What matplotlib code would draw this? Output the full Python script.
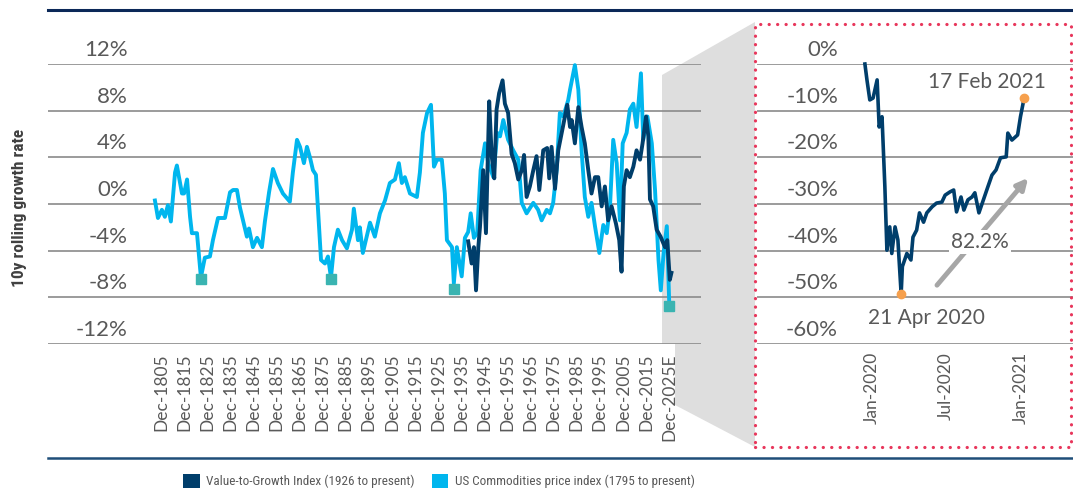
import datetime as dt
import matplotlib
matplotlib.use("Agg")
import matplotlib.pyplot as plt
from matplotlib import font_manager
from matplotlib.font_manager import FontProperties
from matplotlib.patches import Polygon, Rectangle, Patch
from matplotlib.lines import Line2D
from matplotlib.transforms import ScaledTranslation

# ---------------- data ----------------
comm_year = [1802.4, 1803.7, 1805.4, 1806.7, 1808.0, 1809.3, 1811.1, 1811.9, 1814.1, 1815.0,
             1816.3, 1817.6, 1818.4, 1820.6, 1822.3, 1824.0, 1826.2, 1827.5, 1829.7, 1832.7,
             1834.9, 1836.2, 1837.9, 1839.2, 1842.2, 1843.1, 1844.8, 1846.6, 1848.7, 1850.0,
             1851.8, 1853.5, 1855.6, 1857.8, 1860.8, 1862.1, 1863.9, 1865.2, 1866.9, 1868.2,
             1869.5, 1870.8, 1872.1, 1874.3, 1876.0, 1877.3, 1878.6, 1879.9, 1881.6, 1883.4,
             1885.5, 1887.7, 1888.5, 1890.3, 1891.1, 1892.4, 1895.5, 1897.6, 1899.8, 1902.0,
             1904.1, 1906.3, 1908.0, 1909.3, 1910.6, 1912.8, 1915.8, 1917.1, 1918.4, 1920.2,
             1921.9, 1923.2, 1924.5, 1926.6, 1927.9, 1928.8, 1931.0, 1931.8, 1933.1,
             1935.2, 1936.6, 1938.0, 1939.1, 1940.5, 1941.9, 1943.4, 1945.3, 1946.7, 1948.9,
             1950.6, 1951.8, 1953.2, 1955.3, 1957.5, 1959.7, 1961.2, 1963.3, 1966.2, 1968.3,
             1969.8, 1972.0, 1973.4, 1974.8, 1976.3, 1977.7, 1979.2, 1981.3, 1982.1, 1984.2,
             1985.7, 1987.1, 1988.5, 1990.0, 1991.4, 1992.9, 1994.8, 1996.5, 1998.0, 1999.4,
             2000.8, 2002.3, 2003.7, 2004.9, 2006.6, 2008.0, 2009.5, 2010.9, 2012.8, 2013.8,
             2015.6, 2017.5, 2018.9, 2020.4, 2021.4, 2022.6, 2024.0, 2025.0]
comm_val = [0.3, -1.2, -0.5, -1.1, -0.1, -1.5, 2.7, 3.3, 0.9, 0.9,
            2.1, -1.1, -2.5, -2.5, -6.3, -4.6, -4.5, -3.1, -1.2, -1.2,
            1.0, 1.2, 1.2, -0.3, -2.8, -2.1, -3.7, -2.9, -3.7, -1.5,
            1.0, 3.0, 1.8, 0.9, 0.2, 2.7, 5.5, 4.9, 3.5, 4.9,
            4.0, 2.9, 2.5, -4.8, -5.1, -4.5, -6.3, -3.7, -2.2, -3.1,
            -3.8, -2.2, -0.4, -3.1, -2.0, -4.2, -1.6, -2.8, -0.8, 0.3,
            1.8, 2.1, 3.5, 1.8, 2.3, 0.9, 0.6, 2.7, 6.1, 7.8,
            8.5, 3.2, 3.8, 3.8, 0.9, -3.1, -3.7, -6.8, -3.7,
            -6.2, -2.9, -2.4, -0.8, -2.9, -2.5, 2.9, 5.2, 3.5, 2.3,
            6.1, 5.8, 7.2, 5.5, 4.6, 3.8, 0.1, -0.8, 0.1, -0.5,
            -1.4, -0.5, -0.8, 0.1, 2.9, 7.8, 7.5, 8.9, 9.8, 11.9,
            9.8, 4.6, 0.6, -1.1, 0.1, -1.9, -4.2, -1.8, -2.5, -0.2,
            5.5, 3.5, -1.4, 5.2, 6.1, 8.1, 8.6, 6.6, 11.2, 5.5,
            7.5, 5.2, 1.2, -4.8, -7.4, -4.2, -1.9, -8.2]

vg_year = [1938.0, 1939.5, 1940.5, 1941.4, 1942.4, 1943.1, 1944.5, 1945.7, 1947.1, 1948.2,
           1949.3, 1950.3, 1951.4, 1952.9, 1953.9, 1955.3, 1956.8, 1958.2, 1959.7, 1961.2,
           1962.2, 1963.3, 1964.7, 1966.2, 1967.6, 1968.8, 1970.5, 1972.2, 1973.1, 1974.1,
           1975.6, 1977.0, 1978.5, 1979.9, 1980.9, 1982.1, 1982.8, 1984.2, 1985.7, 1987.1,
           1988.5, 1990.0, 1991.4, 1992.9, 1994.3, 1995.8, 1997.2, 1998.6, 2000.1, 2002.0,
           2003.4, 2004.4, 2005.4, 2006.6, 2008.0, 2009.5, 2010.9, 2012.4, 2013.5, 2015.0,
           2016.0, 2016.7, 2018.1, 2019.6, 2021.3, 2023.2, 2024.2, 2025.3, 2026.0]
vg_val = [-3.2, -5.1, -3.7, -7.4, -3.7, -2.0, 2.9, -2.5, 8.8, 4.1,
          2.2, 8.1, 9.5, 10.6, 8.6, 7.8, 4.3, 3.5, 2.1, 2.9,
          4.2, 0.6, 1.5, 2.9, 4.1, 1.2, 4.6, 4.8, 2.2, 4.9,
          1.3, 4.6, 6.1, 7.5, 8.5, 6.6, 7.2, 5.2, 8.3, 6.6,
          5.2, 2.9, 0.9, 2.3, 2.3, -0.2, 1.5, -1.4, -0.2, -1.7,
          -3.1, -5.8, 1.5, 2.9, 2.3, 3.2, 4.6, 3.8, 5.2, 7.5,
          5.8, 0.4, -0.2, -2.2, -2.8, -3.7, -3.1, -6.5, -5.9]

trough_year = [1822.3, 1878.6, 1931.8, 2025.0]
trough_val = [-6.45, -6.45, -7.3, -8.7]

left_yticks = [12, 8, 4, 0, -4, -8, -12]
left_xtick_years = list(range(1805, 2026, 10))
left_xtick_labels = [f"Dec-{y}" for y in range(1805, 2016, 10)] + ["Dec-2025E"]

zoom_dates = ["2020-01-23", "2020-01-28", "2020-02-04", "2020-02-12", "2020-02-22", "2020-02-27",
              "2020-03-05", "2020-03-12", "2020-03-17", "2020-03-24", "2020-03-29", "2020-04-06",
              "2020-04-13", "2020-04-21", "2020-04-24", "2020-05-05", "2020-05-15", "2020-05-20",
              "2020-05-29", "2020-06-05", "2020-06-15", "2020-06-23", "2020-07-06", "2020-07-17",
              "2020-07-30", "2020-08-07", "2020-08-19", "2020-08-28", "2020-09-04", "2020-09-15",
              "2020-09-22", "2020-10-02", "2020-10-12", "2020-10-19", "2020-10-29", "2020-11-09",
              "2020-11-20", "2020-11-30", "2020-12-10", "2020-12-21", "2021-01-04", "2021-01-08",
              "2021-01-18", "2021-02-01", "2021-02-08", "2021-02-17"]
zoom_val = [0.0, -3.4, -7.7, -7.3, -3.4, -13.5,
            -11.3, -26.3, -39.9, -34.9, -40.6, -34.9,
            -37.7, -49.3, -43.4, -40.6, -42.0, -37.1,
            -35.6, -31.9, -33.9, -31.9, -30.6, -29.8,
            -29.6, -28.1, -27.4, -27.0, -31.7, -28.5,
            -31.3, -29.1, -28.5, -27.6, -31.9, -29.1,
            -26.3, -23.8, -22.7, -20.1, -19.9, -14.8,
            -16.3, -15.2, -11.3, -7.3]

right_yticks = [0, -10, -20, -30, -40, -50, -60]
right_xtick_dates = ["2020-01-01", "2020-07-01", "2021-01-01"]
right_xtick_labels = ["Jan-2020", "Jul-2020", "Jan-2021"]

low_date, low_val, low_label = "2020-04-21", -49.3, "21 Apr 2020"
high_date, high_val, high_label = "2021-02-17", -7.3, "17 Feb 2021"
gain_label = "82.2%"
arrow_start = ("2020-07-18", -47.4)
arrow_end = ("2021-02-27", -24.4)
gain_pos = ("2020-11-01", -38.1)

legend_labels = ["Value-to-Growth Index (1926 to present)",
                 "US Commodities price index (1795 to present)"]
ylabel = "10y rolling growth rate"

# ---------------- style ----------------
DARK = "#003e6b"
LIGHT = "#00b6ee"
TEAL = "#3ab4b1"
ORANGE = "#f6a04d"
GRID = "#8a8a8a"
TXT = "#595959"

names = {f.name for f in font_manager.fontManager.ttflist}
MAIN = "Lato" if "Lato" in names else "DejaVu Sans"
NARROW = None
for cand in ["Liberation Sans Narrow", "Roboto Condensed", "Open Sans Condensed",
             "DejaVu Sans Condensed", "Noto Sans Condensed"]:
    if cand in names:
        NARROW = cand
        break
if NARROW is None:
    narrow_kw = dict(family=["DejaVu Sans"], stretch="condensed")
else:
    narrow_kw = dict(family=[NARROW, "DejaVu Sans"])
plt.rcParams["font.family"] = [MAIN, "DejaVu Sans"]

W, H = 1073, 493
fig = plt.figure(figsize=(W / 100, H / 100), dpi=100)


def fx(px):
    return px / W


def fy(py):
    return 1 - py / H


def D(s):
    return dt.datetime.strptime(s, "%Y-%m-%d")


# ---------------- left panel ----------------
ax = fig.add_axes([fx(48), fy(344), fx(701) - fx(48), fy(64) - fy(344)])
ax.set_facecolor("none")
ax.set_frame_on(False)
ax.set_xlim(1756.1, 2038.8)
ax.set_ylim(-12, 12)
ax.set_yticks(left_yticks)
ax.yaxis.grid(True, color=GRID, lw=1.2)
ax.set_axisbelow(True)
ax.tick_params(axis="y", length=0, labelleft=False)
ax.set_xticks(left_xtick_years)
ax.set_xticklabels(left_xtick_labels, rotation=90, fontsize=12.5, color=TXT, va="top")
ax.tick_params(axis="x", length=0, pad=7)

up = ScaledTranslation(0, 0.14, fig.dpi_scale_trans)
for v in left_yticks:
    ax.text((128 - 48) / 653, v, f"{v}%", transform=ax.get_yaxis_transform() + up,
            ha="right", va="center", fontsize=16, color=TXT)

ax.plot(comm_year, comm_val, color=LIGHT, lw=2.8, solid_joinstyle="round", clip_on=False, zorder=3)
ax.plot(vg_year, vg_val, color=DARK, lw=2.8, solid_joinstyle="round", clip_on=False, zorder=4)
ax.plot(trough_year, trough_val, ls="none", marker="s", ms=6.5, color=TEAL, clip_on=False, zorder=5)

# ---------------- right panel ----------------
ax2 = fig.add_axes([fx(757), fy(344), fx(1073) - fx(757), fy(64) - fy(344)])
ax2.set_facecolor("none")
ax2.set_frame_on(False)
base = D("2020-01-01")
ax2.set_xlim(base - dt.timedelta(days=243), base + dt.timedelta(days=533))
ax2.set_ylim(-60, 0)
ax2.set_yticks(right_yticks)
ax2.yaxis.grid(True, color=GRID, lw=1.2)
ax2.set_axisbelow(True)
ax2.tick_params(axis="both", length=0, labelleft=False, labelbottom=False)
for v in right_yticks:
    ax2.text((838 - 757) / 316, v, f"{v}%", transform=ax2.get_yaxis_transform() + up,
             ha="right", va="center", fontsize=16, color=TXT)
xshift = ScaledTranslation(0.16, -0.08, fig.dpi_scale_trans)
for d, lab in zip(right_xtick_dates, right_xtick_labels):
    ax2.text(D(d), 0, lab, transform=ax2.get_xaxis_transform() + xshift, rotation=90,
             ha="center", va="top", fontsize=12.5, color=TXT)

zd = [D(s) for s in zoom_dates]
ax2.plot(zd, zoom_val, color=DARK, lw=2.6, solid_joinstyle="round", clip_on=False, zorder=4)
ax2.plot([D(low_date), D(high_date)], [low_val, high_val], ls="none", marker="o", ms=6,
         color=ORANGE, clip_on=False, zorder=5)
ax2.annotate(high_label, xy=(D(high_date), high_val), xytext=(-37, 16), textcoords="offset pixels",
             ha="center", va="center", fontsize=15, color=TXT)
ax2.annotate(low_label, xy=(D(low_date), low_val), xytext=(25, -24), textcoords="offset pixels",
             ha="center", va="center", fontsize=15, color=TXT)
ax2.annotate("", xy=(D(arrow_end[0]), arrow_end[1]), xytext=(D(arrow_start[0]), arrow_start[1]),
             arrowprops=dict(arrowstyle="-|>", color="#a6a6a6", lw=3.5, mutation_scale=16,
                             shrinkA=0, shrinkB=0), zorder=3)
ax2.text(D(gain_pos[0]), gain_pos[1], gain_label, ha="center", va="center", fontsize=15,
         color=TXT, zorder=6, bbox=dict(facecolor="white", edgecolor="none", pad=1.5))

# ---------------- decorations ----------------
gray_pts = [(662, 75), (755, 22), (755, 447), (675, 405), (675, 344), (662, 344)]
fig.add_artist(Polygon([(fx(x), fy(y)) for x, y in gray_pts], closed=True,
                       transform=fig.transFigure, facecolor="#dedede", edgecolor="none", zorder=-1))
fig.add_artist(Rectangle((fx(755), fy(447)), fx(1071) - fx(755), fy(24) - fy(447),
                         transform=fig.transFigure, facecolor="none", edgecolor="#e8365b",
                         lw=2.3, linestyle=(0, (0.05, 2.6)), capstyle="round", zorder=2))
fig.add_artist(Line2D([fx(48), 1], [fy(10), fy(10)], transform=fig.transFigure,
                      color="#0b2858", lw=2.2))
fig.add_artist(Line2D([fx(48), 1], [fy(458), fy(458)], transform=fig.transFigure,
                      color="#1f4e79", lw=1.8))

fig.text(fx(20), fy(208), ylabel, rotation=90, ha="center", va="center",
         fontproperties=FontProperties(size=12.5, weight="bold", **narrow_kw), color="#404040")

handles = [Patch(facecolor=DARK, edgecolor="none"), Patch(facecolor=LIGHT, edgecolor="none")]
leg = fig.legend(handles, legend_labels, loc="center", bbox_to_anchor=(fx(439), fy(481)),
                 ncol=2, frameon=False, handlelength=1.25, handleheight=1.25, handletextpad=0.5,
                 columnspacing=1.3, prop=FontProperties(size=9.5, **narrow_kw))
for t in leg.get_texts():
    t.set_color(TXT)

fig.savefig("out.png", dpi=100)
